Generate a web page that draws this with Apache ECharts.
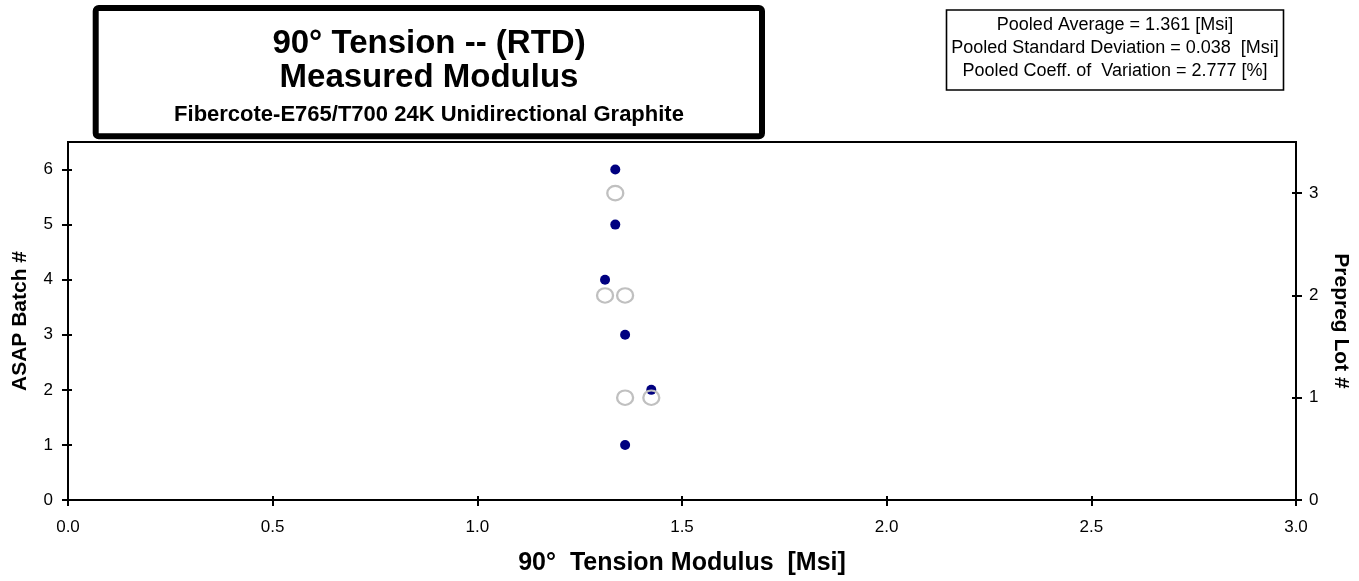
<!DOCTYPE html>
<html><head><meta charset="utf-8">
<script src="https://cdn.jsdelivr.net/npm/echarts@6/dist/echarts.min.js"></script>
<style>html,body{margin:0;padding:0;background:#fff}#c{width:1359px;height:581px}</style>
</head><body><div id="c"></div>
<script>
// ASAP batch (left axis) measured modulus values
const batchModulus = [1.361, 1.425, 1.361, 1.312, 1.337, 1.337];
const batchNumber  = [1, 2, 3, 4, 5, 6];
// Prepreg lot (right axis)
const lotModulus = [1.361, 1.425, 1.312, 1.361, 1.337];
const lotNumber  = [1, 1, 2, 2, 3];
const xTicks = [0, 0.5, 1.0, 1.5, 2.0, 2.5, 3.0];
const batchTicks = [0, 1, 2, 3, 4, 5, 6];
const lotTicks = [0, 1, 2, 3];
const titleLines = ["90° Tension -- (RTD)", "Measured Modulus", "Fibercote-E765/T700 24K Unidirectional Graphite"];
const statLines = ["Pooled Average = 1.361 [Msi]", "Pooled Standard Deviation = 0.038  [Msi]", "Pooled Coeff. of  Variation = 2.777 [%]"];

const F = "'Liberation Sans', Arial, sans-serif";
const chart = echarts.init(document.getElementById('c'));
const lbl = {color:'#000',fontSize:17,fontFamily:F};
const nameStyle = {color:'#000',fontSize:21,fontWeight:'bold',fontFamily:F};
const line = {show:true,onZero:false,lineStyle:{color:'#000',width:2}};
const noLine = {show:false,onZero:false};
const xBase = {type:'value',min:xTicks[0],max:xTicks[xTicks.length-1],interval:0.5,position:'bottom',splitLine:{show:false}};
const yL = {type:'value',min:0,max:6.5,position:'left',splitLine:{show:false}};
const yR = {type:'value',min:0,max:3.5,position:'right',splitLine:{show:false}};
chart.setOption({
  animation:false,
  grid:{left:68,right:62,top:142,bottom:81,show:true,borderColor:'#000',borderWidth:2},
  xAxis:[
    Object.assign({}, xBase, {
      axisLine:line,
      axisTick:{show:true,length:6,lineStyle:{color:'#000',width:2}},
      axisLabel:Object.assign({},lbl,{margin:19,formatter:v=>v.toFixed(1)}),
      name:'90°  Tension Modulus  [Msi]',nameLocation:'middle',nameGap:51,
      nameTextStyle:Object.assign({},nameStyle,{fontSize:25})
    }),
    Object.assign({}, xBase, {
      axisLine:noLine,axisLabel:{show:false},
      axisTick:{show:true,inside:true,length:4,lineStyle:{color:'#000',width:2}}
    })
  ],
  yAxis:[
    Object.assign({}, yL, {
      axisLine:line,
      axisTick:{show:true,length:6,customValues:batchTicks,lineStyle:{color:'#000',width:2}},
      axisLabel:Object.assign({},lbl,{margin:15,customValues:batchTicks}),
      name:'ASAP Batch #',nameLocation:'middle',nameGap:37,nameRotate:90,nameTextStyle:nameStyle
    }),
    Object.assign({}, yR, {
      axisLine:line,
      axisTick:{show:true,length:6,customValues:lotTicks,lineStyle:{color:'#000',width:2}},
      axisLabel:Object.assign({},lbl,{margin:13,customValues:lotTicks}),
      name:'Prepreg Lot #',nameLocation:'middle',nameGap:34,nameRotate:-90,nameTextStyle:nameStyle
    }),
    Object.assign({}, yL, {
      axisLine:noLine,axisLabel:{show:false},
      axisTick:{show:true,inside:true,length:4,customValues:batchTicks,lineStyle:{color:'#000',width:2}}
    }),
    Object.assign({}, yR, {
      axisLine:noLine,axisLabel:{show:false},
      axisTick:{show:true,inside:true,length:4,customValues:lotTicks,lineStyle:{color:'#000',width:2}}
    })
  ],
  series:[
    {type:'scatter',xAxisIndex:0,yAxisIndex:0,symbol:'circle',symbolSize:10,
     itemStyle:{color:'#000080',opacity:1},
     data:batchModulus.map((v,i)=>[v,batchNumber[i]])},
    {type:'scatter',xAxisIndex:0,yAxisIndex:1,symbol:'circle',symbolSize:[16,14.5],
     itemStyle:{color:'rgba(0,0,0,0)',borderColor:'#c0c0c0',borderWidth:2.2,opacity:1},
     data:lotModulus.map((v,i)=>[v,lotNumber[i]])}
  ],
  graphic:[
    {type:'rect',shape:{x:95.7,y:8,width:666.3,height:128.3,r:3},style:{fill:'#fff',stroke:'#000',lineWidth:6},z:100},
    {type:'text',x:429,y:44,z:101,style:{text:titleLines[0],font:"bold 33px "+F,fill:'#000',textAlign:'center',textVerticalAlign:'middle'}},
    {type:'text',x:429,y:78,z:101,style:{text:titleLines[1],font:"bold 33px "+F,fill:'#000',textAlign:'center',textVerticalAlign:'middle'}},
    {type:'text',x:429,y:115,z:101,style:{text:titleLines[2],font:"bold 22px "+F,fill:'#000',textAlign:'center',textVerticalAlign:'middle'}},
    {type:'rect',shape:{x:946.5,y:10,width:337,height:80},style:{fill:'#fff',stroke:'#000',lineWidth:1.6},z:100},
    {type:'text',x:1115,y:25,z:101,style:{text:statLines[0],font:"18px "+F,fill:'#000',textAlign:'center',textVerticalAlign:'middle'}},
    {type:'text',x:1115,y:48,z:101,style:{text:statLines[1],font:"18px "+F,fill:'#000',textAlign:'center',textVerticalAlign:'middle'}},
    {type:'text',x:1115,y:71.5,z:101,style:{text:statLines[2],font:"18px "+F,fill:'#000',textAlign:'center',textVerticalAlign:'middle'}}
  ]
});
</script></body></html>
